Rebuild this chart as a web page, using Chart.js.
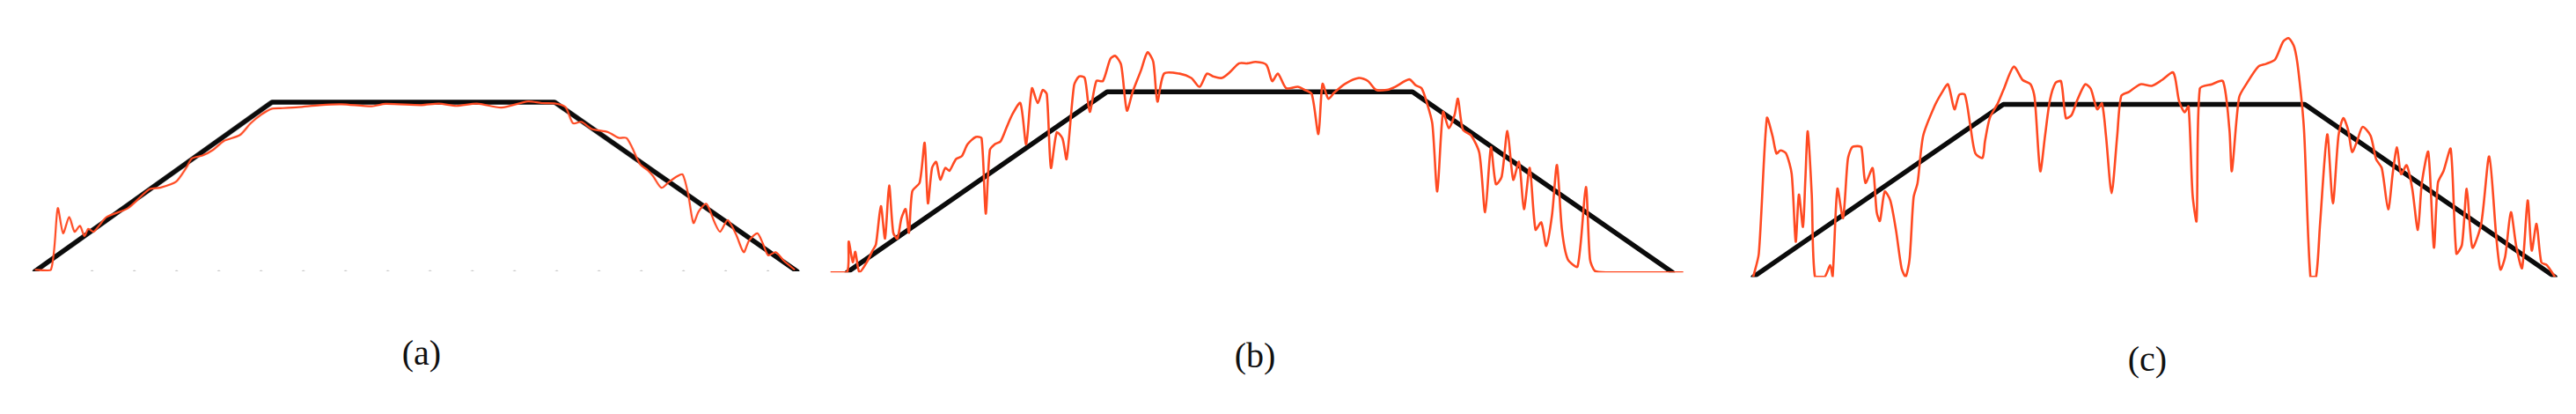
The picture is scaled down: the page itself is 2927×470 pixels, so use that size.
<!DOCTYPE html>
<html>
<head>
<meta charset="utf-8">
<script src="https://cdn.jsdelivr.net/npm/chart.js@4.4.1/dist/chart.umd.min.js"></script>
<style>
  html,body{margin:0;padding:0;background:#fff;}
  body{width:2927px;height:470px;position:relative;overflow:hidden;}
  .wrap{position:absolute;}
  .lbl{position:absolute;font-family:"Liberation Serif","DejaVu Serif",serif;font-size:40px;color:#111;transform:translate(-50%,-50%);white-space:nowrap;}
</style>
</head>
<body>
<div class="wrap" id="wa"><canvas id="ca"></canvas></div>
<div class="wrap" id="wb"><canvas id="cb"></canvas></div>
<div class="wrap" id="wc"><canvas id="cc"></canvas></div>
<div class="lbl" style="left:479px;top:400px">(a)</div>
<div class="lbl" style="left:1426px;top:403px">(b)</div>
<div class="lbl" style="left:2440px;top:407px">(c)</div>
<script>
// ---- data (x: time in % of cycle, y: speed relative to cruise speed) ----
const panelLabels = ["(a)", "(b)", "(c)"];

const refA = [[0,0],[31.1,1],[68.2,1],[100,0]];
const refB = [[0,0],[31.5,1],[68.5,1],[100,0]];
const refC = [[0,0],[31.2,1],[68.8,1],[100,0]];

const measA = [[0,0.009],[2.1,0.009],[3.0,0.373],[3.7,0.225],[4.5,0.321],[5.2,0.234],[5.9,0.269],[6.5,0.208],[7.0,0.251],[7.7,0.234],[8.4,0.269],[9.4,0.321],[12.2,0.373],[15.0,0.485],[16.4,0.494],[18.5,0.529],[19.9,0.615],[20.6,0.667],[22.0,0.685],[23.4,0.719],[24.8,0.771],[26.9,0.806],[28.3,0.875],[29.7,0.927],[31.1,0.962],[32.5,0.965],[34.6,0.971],[37.4,0.983],[40.2,0.988],[44.2,0.976],[46.0,0.99],[50.7,0.983],[53.0,0.992],[55.3,0.978],[58.0,0.992],[61.2,0.968],[64.7,1.005],[66.5,0.995],[68.2,0.993],[69.6,0.971],[70.6,0.875],[71.7,0.884],[73.1,0.841],[75.2,0.823],[76.6,0.789],[77.6,0.789],[78.3,0.737],[79.4,0.633],[80.4,0.598],[81.1,0.563],[82.2,0.494],[83.2,0.529],[84.3,0.563],[85.0,0.572],[85.7,0.459],[86.4,0.286],[87.1,0.355],[88.1,0.399],[89.2,0.286],[89.9,0.234],[90.9,0.303],[92.0,0.217],[93.0,0.113],[93.7,0.182],[94.8,0.225],[95.5,0.165],[96.2,0.095],[97.2,0.113],[98.3,0.061],[99.7,0.009]];

const measB = [[-2.0,0],[0,0],[0.2,0.171],[0.7,0.057],[1.0,0.114],[1.5,0],[2.4,0.057],[3.1,0.122],[3.5,0.155],[4.1,0.367],[4.6,0.188],[5.1,0.481],[5.6,0.220],[6.1,0.188],[6.6,0.302],[7.1,0.351],[7.5,0.220],[7.9,0.449],[8.8,0.498],[9.4,0.718],[9.8,0.383],[10.3,0.579],[10.8,0.612],[11.3,0.514],[11.9,0.579],[12.4,0.563],[13.2,0.628],[13.9,0.644],[14.6,0.710],[15.6,0.750],[16.3,0.742],[16.8,0.326],[17.3,0.677],[17.9,0.710],[18.6,0.726],[19.3,0.800],[20.0,0.873],[21.0,0.938],[21.7,0.710],[22.4,1.020],[23.1,0.938],[23.7,1.010],[24.2,0.987],[24.7,0.580],[25.4,0.775],[26.1,0.742],[26.6,0.628],[27.5,1.036],[28.1,1.085],[28.8,1.077],[29.4,0.889],[30.2,1.060],[31.0,1.060],[31.9,1.183],[32.5,1.199],[33.2,1.150],[33.9,0.897],[34.6,1.000],[35.6,1.118],[36.4,1.219],[37.1,1.166],[37.6,0.946],[38.4,1.101],[40.3,1.101],[41.7,1.077],[42.7,1.028],[43.6,1.101],[44.4,1.085],[45.4,1.077],[46.4,1.110],[47.5,1.158],[48.5,1.158],[49.5,1.166],[50.8,1.150],[51.5,1.060],[52.2,1.101],[53.2,1.020],[54.6,1.028],[55.4,1.012],[56.3,0.987],[57.1,0.767],[57.6,1.044],[58.3,0.962],[59.0,0.995],[60.3,1.044],[62.0,1.077],[63.1,1.060],[64.1,1.011],[65.4,1.011],[66.4,1.028],[68.1,1.069],[68.9,1.036],[69.6,1.020],[70.2,0.946],[70.9,0.824],[71.5,0.449],[72.2,0.889],[72.9,0.799],[73.6,0.873],[74.0,0.962],[74.6,0.791],[75.6,0.759],[76.6,0.661],[77.3,0.334],[78.0,0.693],[78.6,0.489],[79.3,0.530],[80.0,0.783],[80.7,0.514],[81.4,0.612],[82.0,0.351],[82.7,0.579],[83.4,0.237],[84.1,0.277],[84.7,0.147],[85.4,0.318],[86.0,0.595],[86.6,0.237],[87.3,0.073],[88.5,0.033],[89.5,0.473],[90.0,0.073],[90.6,0.008],[92.0,0],[101.3,0]];

const measC = [[0,0],[0.7,0.136],[1.7,0.920],[2.4,0.818],[2.9,0.715],[3.4,0.733],[4.1,0.715],[4.8,0.596],[5.3,0.204],[5.7,0.477],[6.2,0.290],[6.5,0.562],[6.8,0.843],[7.3,0.477],[7.7,0],[8.9,0],[9.6,0.068],[9.9,0],[10.5,0.511],[11.2,0.341],[11.8,0.681],[12.3,0.750],[13.0,0.758],[13.5,0.750],[14.0,0.545],[14.9,0.630],[15.4,0.375],[15.8,0.324],[16.4,0.494],[17.1,0.443],[17.8,0.273],[18.5,0.051],[19.0,0],[19.5,0.102],[20.0,0.460],[20.5,0.545],[21.2,0.818],[22.6,0.988],[23.6,1.073],[24.3,1.116],[25.1,0.971],[25.7,1.056],[26.4,1.056],[27.1,0.869],[27.7,0.716],[28.6,0.690],[28.9,0.784],[29.5,0.920],[30.5,1.005],[31.2,1.082],[32.5,1.218],[33.6,1.141],[34.6,1.116],[35.1,1.039],[35.8,0.613],[36.4,0.818],[37.0,1.022],[37.7,1.124],[38.4,1.133],[39.0,0.920],[39.7,0.937],[40.4,1.022],[41.4,1.116],[42.1,1.090],[42.9,0.971],[43.5,1.005],[44.0,0.818],[44.7,0.486],[45.4,0.818],[45.9,1.048],[46.9,1.073],[48.3,1.116],[49.7,1.107],[51.0,1.141],[52.4,1.184],[53.1,1.022],[53.8,0.954],[54.3,0.988],[54.8,0.477],[55.3,0.324],[55.7,1.090],[57.2,1.116],[58.6,1.133],[59.4,0.852],[59.7,0.613],[60.6,1.039],[61.6,1.124],[63.0,1.218],[64.0,1.235],[65.1,1.260],[66.1,1.363],[66.8,1.383],[67.5,1.329],[68.0,1.193],[68.7,0.852],[69.5,0],[70.2,0],[70.7,0.307],[71.6,0.826],[72.3,0.426],[73.0,0.818],[73.6,0.920],[74.2,0.852],[74.7,0.724],[75.3,0.784],[76.0,0.869],[77.0,0.818],[77.7,0.681],[78.4,0.630],[79.2,0.392],[79.8,0.613],[80.3,0.750],[80.8,0.596],[81.5,0.647],[82.2,0.511],[82.9,0.273],[83.4,0.545],[84.2,0.724],[84.9,0.170],[85.4,0.545],[86.1,0.613],[87.0,0.741],[87.7,0.136],[88.4,0.187],[89.0,0.511],[89.7,0.170],[90.8,0.307],[91.8,0.698],[92.7,0.221],[93.2,0.043],[93.8,0.119],[94.5,0.375],[95.2,0.170],[95.9,0.051],[96.6,0.443],[97.1,0.153],[97.7,0.307],[98.3,0.085],[99.0,0.068],[100,0]];

const baseTicksA = [7.5,13.05,18.59,24.13,29.67,35.22,40.76,46.3,51.84,57.39,62.93,68.47,74.01,79.56,85.1,90.64,96.18];

// ---- layout (pixels) ----
const panels = [
  {id:"ca", wrap:"wa", x0:40,  x100:905,  base:308, top:116, xmin:-1,  xmax:101,  ymax:1.12, ref:refA, meas:measA, redW:2.2, ticks:baseTicksA},
  {id:"cb", wrap:"wb", x0:962, x100:1900, base:309, top:104, xmin:-2.5,xmax:102,  ymax:1.26, ref:refB, meas:measB, redW:2.6, ticks:[]},
  {id:"cc", wrap:"wc", x0:1992,x100:2903, base:314, top:118, xmin:-1,  xmax:101,  ymax:1.40, ref:refC, meas:measC, redW:2.6, ticks:[]}
];
const M = 6;
const toXY = arr => arr.map(p => ({x:p[0], y:p[1]}));

panels.forEach(p => {
  const pxPerX = (p.x100 - p.x0) / 100;
  const pxPerY = p.base - p.top;
  const left = p.x0 + p.xmin * pxPerX - M;
  const width = (p.xmax - p.xmin) * pxPerX + 2 * M;
  const topPx = p.base - p.ymax * pxPerY - M;
  const height = p.ymax * pxPerY + 2 * M;
  const w = document.getElementById(p.wrap);
  w.style.left = left + "px"; w.style.top = topPx + "px";
  w.style.width = width + "px"; w.style.height = height + "px";
  const datasets = [];
  if (p.ticks.length) {
    datasets.push({type:"scatter", data:p.ticks.map(t => ({x:t, y:0})), pointRadius:1.6, pointBackgroundColor:"#c8c8c8", pointBorderWidth:0, order:3});
  }
  datasets.push({data:toXY(p.meas), borderColor:"#ff4a22", borderWidth:p.redW, pointRadius:0, tension:0.25, fill:false, order:1});
  datasets.push({data:toXY(p.ref), borderColor:"#0b0b0b", borderWidth:5.5, pointRadius:0, tension:0, fill:false, order:2, borderCapStyle:"round", borderJoinStyle:"round"});
  new Chart(document.getElementById(p.id), {
    type:"line",
    data:{datasets},
    options:{
      responsive:true, maintainAspectRatio:false, animation:false,
      layout:{padding:M},
      plugins:{legend:{display:false}, tooltip:{enabled:false}},
      scales:{
        x:{type:"linear", min:p.xmin, max:p.xmax, display:false},
        y:{type:"linear", min:0, max:p.ymax, display:false}
      }
    }
  });
});
</script>
</body>
</html>
